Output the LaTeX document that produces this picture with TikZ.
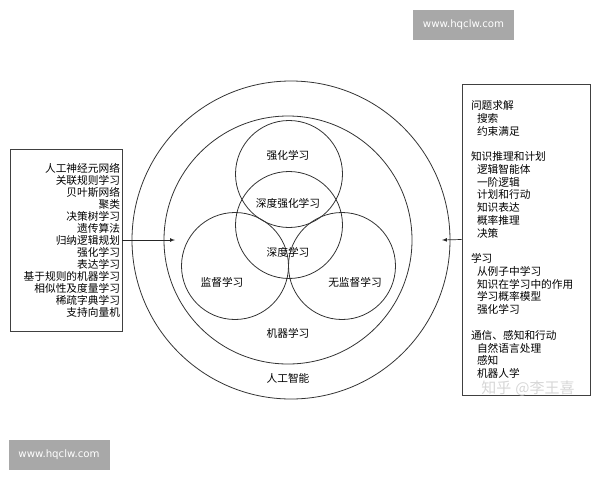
\documentclass[tikz,border=0pt]{standalone}
\usepackage{fontspec}
\setmainfont{Noto Sans CJK SC}
\newfontfamily\sitefont{DejaVu Sans}
\begin{document}
\begin{tikzpicture}[x=1pt,y=-1pt,
  every node/.style={inner sep=0pt,font=\fontsize{10.7}{12}\selectfont},
  ring/.style={draw=black!80,line width=0.8pt,circle,minimum size=#1},
  listbox/.style={draw=black!75,line width=0.8pt,rectangle},
  pointer/.style={draw=black!85,line width=0.7pt,-latex},
  site/.style={fill=black!34,text=white,minimum width=101pt,minimum height=30pt,
    font=\sitefont\fontsize{10.2}{12}\selectfont}]
\useasboundingbox (0,0) rectangle (600,480);
% nested circles
\node[ring=318] (ai) at (291,240) {};
\node[ring=248] (ml) at (288,240) {};
\node[ring=107] (rl) at (289,174) {};
\node[ring=107] (dl) at (289,225) {};
\node[ring=107] (sl) at (235,266) {};
\node[ring=107] (ul) at (342,266) {};
% circle labels
\node (rltext) at (288,155) {强化学习};
\node (drltext) at (288,203) {深度强化学习};
\node (dltext) at (288,252) {深度学习};
\node (sltext) at (222,282) {监督学习};
\node (ultext) at (355,282) {无监督学习};
\node (mltext) at (288,333) {机器学习};
\node (aitext) at (288,378) {人工智能};
% left list
\node[listbox,text width=108pt,align=right,inner xsep=2pt,minimum height=182pt] (algos) at (66,240) {%
人工神经元网络\\关联规则学习\\贝叶斯网络\\聚类\\决策树学习\\遗传算法\\归纳逻辑规划\\
强化学习\\表达学习\\基于规则的机器学习\\相似性及度量学习\\稀疏字典学习\\支持向量机};
% right list
\node[listbox,text width=110pt,align=left,inner xsep=9pt,minimum height=311pt,
  font=\fontsize{10.7}{12.76}\selectfont] (topics) at (526,239.5) {%
问题求解\\\hspace{6pt}搜索\\\hspace{6pt}约束满足\\[12.76pt]
知识推理和计划\\\hspace{6pt}逻辑智能体\\\hspace{6pt}一阶逻辑\\\hspace{6pt}计划和行动\\
\hspace{6pt}知识表达\\\hspace{6pt}概率推理\\\hspace{6pt}决策\\[12.76pt]
学习\\\hspace{6pt}从例子中学习\\\hspace{6pt}知识在学习中的作用\\\hspace{6pt}学习概率模型\\
\hspace{6pt}强化学习\\[12.76pt]
通信、感知和行动\\\hspace{6pt}自然语言处理\\\hspace{6pt}感知\\\hspace{6pt}机器人学};
% arrows into the circles
\coordinate (lefttip) at (175,240);
\coordinate (righttip) at (442,240);
\draw[pointer] (algos.east) -- (lefttip);
\draw[pointer] (topics.west) -- (righttip);
% watermarks
\node[text=black!16,font=\fontsize{15}{17}\selectfont] (mark) at (528,388) {知乎\hspace{4pt}@李王喜};
\node[site] (siteup) at (463.5,25) {www.hqclw.com};
\node[site] (sitedown) at (59,455) {www.hqclw.com};
\end{tikzpicture}
\end{document}
